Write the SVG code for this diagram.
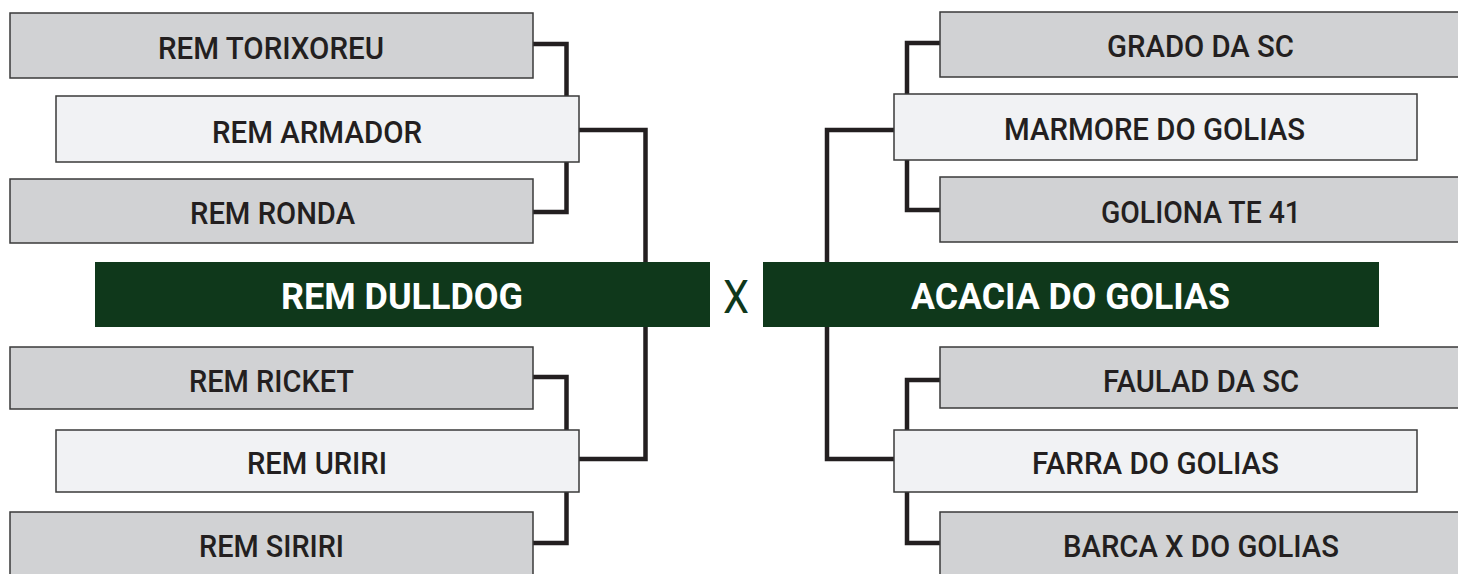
<svg xmlns="http://www.w3.org/2000/svg" width="1458" height="574" viewBox="0 0 1458 574">
<style>
.c{fill:none;stroke:#231f20;stroke-width:4.5;stroke-linejoin:miter}
.g{fill:#d1d2d4;stroke:#3a3a3a;stroke-width:1.5}
.l{fill:#f1f2f4;stroke:#3a3a3a;stroke-width:1.5}
.w{fill:#0f381b}
.t{font-family:Roboto,"Liberation Sans",sans-serif;font-size:31px;font-weight:500;fill:#231f20;text-anchor:middle}
.b{font-family:Roboto,"Liberation Sans",sans-serif;font-size:37px;font-weight:700;fill:#ffffff;text-anchor:middle}
.x{font-family:Roboto,"Liberation Sans",sans-serif;font-size:47px;font-weight:400;fill:#0f381b;text-anchor:middle}
</style>
<rect width="1458" height="574" fill="#ffffff"/>
<g id="connectors">
<path class="c" d="M533,44 H566.5 V212 H533"/>
<path class="c" d="M579,130 H645.5 V459 H579"/>
<path class="c" d="M533,377 H566.5 V543 H533"/>
<path class="c" d="M940,43 H907 V210 H940"/>
<path class="c" d="M894,130 H827 V459 H894"/>
<path class="c" d="M940,380 H907 V543 H940"/>
</g>
<g id="n-torixoreu"><rect class="g" x="10" y="13" width="523" height="65"/><text class="t" x="271" y="59" textLength="226" lengthAdjust="spacingAndGlyphs">REM TORIXOREU</text></g>
<g id="n-armador"><rect class="l" x="56" y="96" width="523" height="66"/><text class="t" x="317" y="143" textLength="210" lengthAdjust="spacingAndGlyphs">REM ARMADOR</text></g>
<g id="n-ronda"><rect class="g" x="10" y="179" width="523" height="64"/><text class="t" x="272.5" y="224" textLength="165" lengthAdjust="spacingAndGlyphs">REM RONDA</text></g>
<g id="n-dulldog"><rect class="w" x="95" y="262" width="615" height="65"/><text class="b" x="402" y="309" textLength="242" lengthAdjust="spacingAndGlyphs">REM DULLDOG</text></g>
<g id="vs"><text class="x" x="736" y="313" textLength="26" lengthAdjust="spacingAndGlyphs">X</text></g>
<g id="n-acacia"><rect class="w" x="763" y="262" width="616" height="65"/><text class="b" x="1070.5" y="309" textLength="319" lengthAdjust="spacingAndGlyphs">ACACIA DO GOLIAS</text></g>
<g id="n-ricket"><rect class="g" x="10" y="347" width="523" height="62"/><text class="t" x="271.5" y="392" textLength="165" lengthAdjust="spacingAndGlyphs">REM RICKET</text></g>
<g id="n-uriri"><rect class="l" x="56" y="430" width="523" height="62"/><text class="t" x="317" y="474" textLength="140" lengthAdjust="spacingAndGlyphs">REM URIRI</text></g>
<g id="n-siriri"><rect class="g" x="10" y="512" width="523" height="70"/><text class="t" x="271.5" y="557" textLength="145" lengthAdjust="spacingAndGlyphs">REM SIRIRI</text></g>
<g id="n-grado"><rect class="g" x="940" y="12" width="530" height="65"/><text class="t" x="1200.5" y="57" textLength="187" lengthAdjust="spacingAndGlyphs">GRADO DA SC</text></g>
<g id="n-marmore"><rect class="l" x="894" y="94" width="523" height="66"/><text class="t" x="1154.5" y="140" textLength="301" lengthAdjust="spacingAndGlyphs">MARMORE DO GOLIAS</text></g>
<g id="n-goliona"><rect class="g" x="940" y="177" width="530" height="65"/><text class="t" x="1201" y="223" textLength="200" lengthAdjust="spacingAndGlyphs">GOLIONA TE 41</text></g>
<g id="n-faulad"><rect class="g" x="940" y="347" width="530" height="61"/><text class="t" x="1201" y="392" textLength="196" lengthAdjust="spacingAndGlyphs">FAULAD DA SC</text></g>
<g id="n-farra"><rect class="l" x="894" y="430" width="523" height="62"/><text class="t" x="1155.5" y="474" textLength="247" lengthAdjust="spacingAndGlyphs">FARRA DO GOLIAS</text></g>
<g id="n-barca"><rect class="g" x="940" y="512" width="530" height="70"/><text class="t" x="1201" y="557" textLength="276" lengthAdjust="spacingAndGlyphs">BARCA X DO GOLIAS</text></g>
</svg>
